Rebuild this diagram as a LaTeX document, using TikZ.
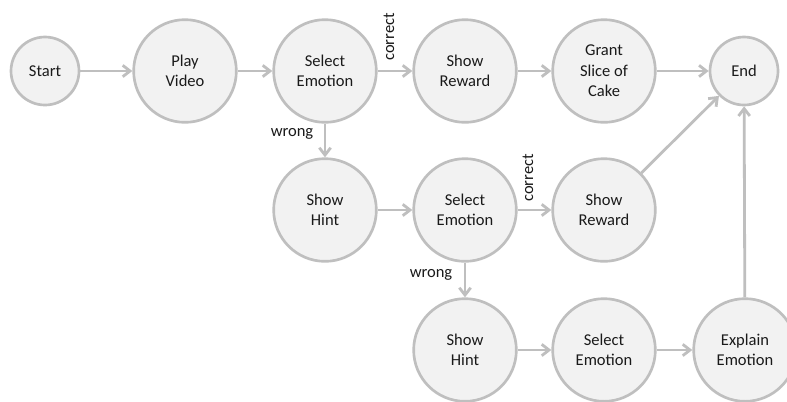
\documentclass[tikz,border=0pt]{standalone}
\usepackage{fontspec}
\setmainfont{Carlito}
\usetikzlibrary{arrows.meta}
\definecolor{ringgray}{HTML}{BFBFBF}
\definecolor{fillgray}{HTML}{F2F2F2}
\definecolor{inkgray}{HTML}{1A1A1A}
\tikzset{
  state/.style={circle, draw=ringgray, fill=fillgray, line width=2pt,
    minimum size=77pt, inner sep=0pt, align=center, text=inkgray,
    font=\fontsize{12.4}{15.4}\selectfont},
  terminal/.style={state, minimum size=51pt},
  flow/.style={draw=ringgray, line width=2.1pt,
    -{Straight Barb[length=5.5pt,width=8.5pt,line width=2.1pt]}},
  lbl/.style={text=inkgray, inner sep=0pt, font=\fontsize{12.4}{15.4}\selectfont}
}
\begin{document}
\begin{tikzpicture}[x=0.75pt,y=-0.75pt]
  \clip (0,0) rectangle (787,401);
  \fill[white] (0,0) rectangle (787,401);

  % top row
  \node[terminal] (start) at (45,71)  {Start};
  \node[state]    (play)  at (185,71) {Play\\Video};
  \node[state]    (sel1)  at (325,71) {Select\\Emotion};
  \node[state]    (rew1)  at (465,71) {Show\\Reward};
  \node[state]    (grant) at (604,71) {Grant\\Slice of\\Cake};
  \node[terminal] (end)   at (744,71) {End};

  % middle row
  \node[state] (hint2) at (325,210) {Show\\Hint};
  \node[state] (sel2)  at (465,210) {Select\\Emotion};
  \node[state] (rew2)  at (604,210) {Show\\Reward};

  % bottom row
  \node[state] (hint3) at (465,350) {Show\\Hint};
  \node[state] (sel3)  at (604,350) {Select\\Emotion};
  \node[state] (expl)  at (745,350) {Explain\\Emotion};

  % connectors
  \draw[flow] (start) -- (play);
  \draw[flow] (play) -- (sel1);
  \draw[flow] (sel1) -- (rew1);
  \draw[flow] (rew1) -- (grant);
  \draw[flow] (grant) -- (end);
  \draw[flow] (sel1) -- (hint2);
  \draw[flow] (hint2) -- (sel2);
  \draw[flow] (sel2) -- (rew2);
  \draw[flow] (rew2) -- (end);
  \draw[flow] (sel2) -- (hint3);
  \draw[flow] (hint3) -- (sel3);
  \draw[flow] (sel3) -- (expl);
  \draw[flow] (expl) -- (end);

  % branch labels
  \node[lbl, rotate=90] (c1) at (389,37)  {correct};
  \node[lbl, rotate=90] (c2) at (528,178) {correct};
  \node[lbl] (w1) at (292,134) {wrong};
  \node[lbl] (w2) at (431,275) {wrong};
\end{tikzpicture}
\end{document}
